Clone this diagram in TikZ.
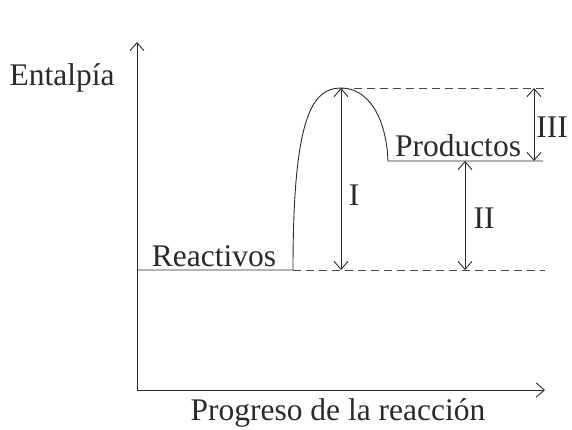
\documentclass[tikz,border=0pt]{standalone}
\usepackage{fontspec}
\setmainfont{Liberation Serif}
\usetikzlibrary{arrows.meta}
\definecolor{ink}{HTML}{2A2A2A}
\begin{document}
\begin{tikzpicture}[x=1pt,y=-1pt,
  tip/.tip={Straight Barb[length=8pt,width=14pt,line width=0.9pt]},
  ln/.style={line width=0.9pt, draw=ink},
  dsh/.style={line width=0.8pt, draw=ink!85, dash pattern=on 8pt off 5pt},
  dim/.style={ln, tip-tip},
  lbl/.style={font=\fontsize{31.5}{36}\selectfont, text=ink, inner sep=0pt}]
\useasboundingbox (0,0) rectangle (572,430);
% axes
\coordinate (O) at (137,390);
\coordinate (ytop) at (137,42);
\coordinate (xend) at (545,390);
\draw[ln, -tip] (O) -- (ytop);
\draw[ln, -tip] (O) -- (xend);
% profile
\coordinate (r0) at (137,270);
\coordinate (r1) at (293,270);
\coordinate (pk) at (341,88);
\coordinate (p0) at (388,161);
\coordinate (p1) at (543,161);
\draw[ln] (r0) -- (r1) .. controls (293,120) and (311,88) .. (pk)
  .. controls (367,88) and (386,115) .. (p0) -- (p1);
% dashed levels
\coordinate (d1) at (545,270);
\coordinate (d2) at (545,88);
\draw[dsh] (r1) -- (d1);
\draw[dsh] (pk) -- (d2);
% dimension arrows
\coordinate (Ia) at (341,88); \coordinate (Ib) at (341,270);
\coordinate (IIa) at (465,161); \coordinate (IIb) at (465,270);
\coordinate (IIIa) at (534,88); \coordinate (IIIb) at (534,161);
\draw[dim] (Ia) -- (Ib);
\draw[dim] (IIa) -- (IIb);
\draw[dim] (IIIa) -- (IIIb);
% labels
\node[lbl] (ent) at (62,78) {Entalpía};
\node[lbl] (prog) at (338,413) {Progreso de la reacción};
\node[lbl] (rea) at (214,256) {Reactivos};
\node[lbl] (pro) at (458,146) {Productos};
\node[lbl] (lI) at (354,195) {I};
\node[lbl] (lII) at (484,218) {II};
\node[lbl] (lIII) at (552,127) {III};
\end{tikzpicture}
\end{document}
